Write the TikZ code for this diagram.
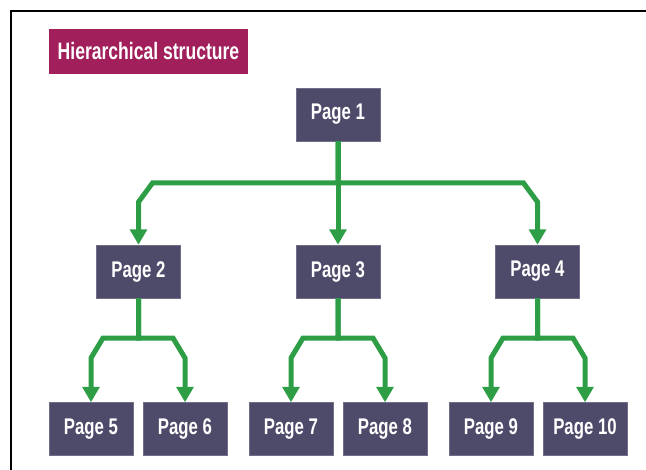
\documentclass[tikz,border=0pt]{standalone}
\usepackage{fontspec}
\newfontfamily\labelfont[FakeStretch=0.74]{Liberation Sans}
\usetikzlibrary{arrows.meta,calc}

\definecolor{titlebg}{HTML}{A11F5B}
\definecolor{pagebg}{HTML}{4E4A6A}
\definecolor{linkgreen}{HTML}{2E9E46}

\tikzset{
  pagebox/.style={fill=pagebg, draw=pagebg!80!white, line width=0.4pt,
    minimum width=63pt, minimum height=39.75pt, inner sep=0pt,
    text=white, font=\labelfont\bfseries\fontsize{17}{20}\selectfont},
  titlebox/.style={fill=titlebg, minimum width=149.25pt, minimum height=33.75pt,
    inner sep=0pt, text=white, font=\labelfont\bfseries\fontsize{17.8}{21}\selectfont},
  link/.style={draw=linkgreen, line width=3.75pt, line join=miter,
    -{Triangle[width=12.5pt,length=11.5pt]}},
}

\begin{document}
\begin{tikzpicture}[x=0.75pt,y=-0.75pt]
  \useasboundingbox (0,0) rectangle (646,470);

  % outer frame (top and left edges)
  \draw[line width=1.5pt] (11,470) -- (11,11) -- (646,11);

  \node[titlebox] (title) at (148.5,51.5) {Hierarchical structure};

  % page boxes
  \node[pagebox] (p1) at (338,114.5) {Page 1};
  \node[pagebox] (p2) at (138.5,271.5) {Page 2};
  \node[pagebox] (p3) at (338,271.5) {Page 3};
  \node[pagebox] (p4) at (537.5,271.5) {Page 4};
  \node[pagebox] (p5) at (91,429) {Page 5};
  \node[pagebox] (p6) at (185,429) {Page 6};
  \node[pagebox] (p7) at (291,429) {Page 7};
  \node[pagebox] (p8) at (385,429) {Page 8};
  \node[pagebox] (p9) at (491,429) {Page 9};
  \node[pagebox] (p10) at (585,429) {Page 10};

  % bus levels
  \coordinate (busA) at (0,183);
  \coordinate (busB) at (0,338);

  % level 1 -> level 2
  \draw[link] (p1.south) -- (p1.south |- busA) -- ($(p2.north |- busA)+(14,0)$)
    -- ($(p2.north |- busA)+(0,19)$) -- (p2.north);
  \draw[link] (p1.south) -- (p3.north);
  \draw[link] (p1.south) -- (p1.south |- busA) -- ($(p4.north |- busA)+(-14,0)$)
    -- ($(p4.north |- busA)+(0,19)$) -- (p4.north);

  % level 2 -> level 3
  \foreach \parent/\left/\right in {p2/p5/p6, p3/p7/p8, p4/p9/p10}{
    \draw[link] (\parent.south) -- (\parent.south |- busB)
      -- ($(\left.north |- busB)+(12,0)$) -- ($(\left.north |- busB)+(0,20)$)
      -- (\left.north);
    \draw[link] (\parent.south) -- (\parent.south |- busB)
      -- ($(\right.north |- busB)+(-12,0)$) -- ($(\right.north |- busB)+(0,20)$)
      -- (\right.north);
  }
\end{tikzpicture}
\end{document}
